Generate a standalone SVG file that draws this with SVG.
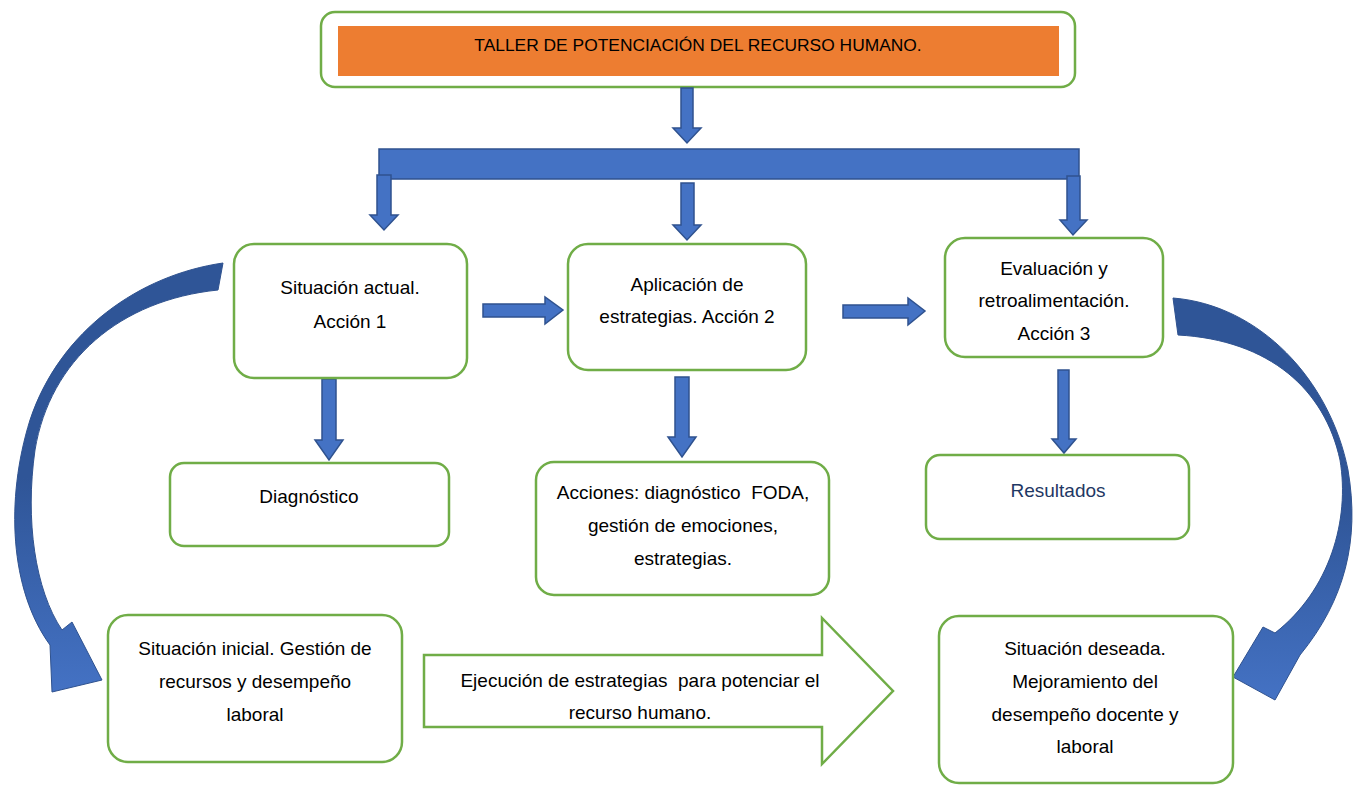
<svg xmlns="http://www.w3.org/2000/svg" width="1359" height="785" viewBox="0 0 1359 785">
<defs>
<style>
.box{fill:#fff;stroke:#70AD47;stroke-width:2.5}
.blk{fill:#4472C4;stroke:#2F528F;stroke-width:1.5}
.t{font-family:"Liberation Sans",Arial,sans-serif;font-size:19px;fill:#000;text-anchor:middle;white-space:pre}
</style>
<linearGradient id="gL" x1="0" y1="0" x2="0" y2="1">
<stop offset="0" stop-color="#2F5597"/><stop offset="0.5" stop-color="#2F5597"/><stop offset="1" stop-color="#4472C4"/>
</linearGradient>
</defs>
<rect width="1359" height="785" fill="#fff"/>

<g id="title">
<rect class="box" x="321" y="12" width="754" height="75" rx="14"/>
<rect x="338" y="26" width="721" height="50" fill="#ED7D31"/>
<text class="t" x="698" y="51" style="font-size:17.4px">TALLER DE POTENCIACIÓN DEL RECURSO HUMANO.</text>
</g>

<g id="connectors">
<polygon class="blk" points="681,88 693,88 693,128 701,128 687,143 673,128 681,128"/>
<rect class="blk" x="379" y="149" width="700" height="30"/>
<polygon class="blk" points="377,175 391,175 391,215 398,215 384,230 370,215 377,215"/>
<polygon class="blk" points="681,183 694,183 694,225 701,225 687,240 673,225 681,225"/>
<polygon class="blk" points="1067,176 1080,176 1080,220 1087,220 1073,235 1060,220 1067,220"/>
<polygon class="blk" points="483,304 545,304 545,297 563,310 545,324 545,317 483,317"/>
<polygon class="blk" points="843,305 908,305 908,298 925,311 908,325 908,318 843,318"/>
<polygon class="blk" points="322,379 336,379 336,440 343,440 329,460 315,440 322,440"/>
<polygon class="blk" points="675,377 689,377 689,437 696,437 682,457 668,437 675,437"/>
<polygon class="blk" points="1058,370 1069,370 1069,439 1076,439 1064,453 1052,439 1058,439"/>
<path fill="url(#gL)" stroke="#2F528F" stroke-width="1" d="M 223 263 C 140 275, 60 330, 30 420 C 5 500, 10 590, 50 645 L 52 692 L 102 680 L 72 622 L 62 630 C 35 590, 25 520, 35 450 C 50 360, 120 300, 218 290 Z"/>
<path fill="url(#gL)" stroke="#2F528F" stroke-width="1" d="M 1173 298 C 1260 305, 1330 380, 1348 470 C 1360 540, 1345 600, 1300 655 L 1275 700 L 1233 677 L 1263 627 L 1275 633 C 1330 590, 1350 520, 1340 460 C 1325 390, 1270 340, 1178 335 Z"/>
</g>

<g id="actual">
<rect class="box" x="234" y="244" width="233" height="134" rx="20"/>
<text class="t" x="350" y="294">Situación actual.</text>
<text class="t" x="350" y="328">Acción 1</text>
</g>
<g id="aplicacion">
<rect class="box" x="568" y="244" width="238" height="126" rx="20"/>
<text class="t" x="687" y="291">Aplicación de</text>
<text class="t" x="687" y="323">estrategias. Acción 2</text>
</g>
<g id="evaluacion">
<rect class="box" x="945" y="238" width="218" height="119" rx="20"/>
<text class="t" x="1054" y="275">Evaluación y</text>
<text class="t" x="1054" y="307">retroalimentación.</text>
<text class="t" x="1054" y="340">Acción 3</text>
</g>
<g id="diagnostico">
<rect class="box" x="170" y="463" width="279" height="83" rx="14"/>
<text class="t" x="309" y="503">Diagnóstico</text>
</g>
<g id="acciones">
<rect class="box" x="536" y="462" width="293" height="133" rx="18"/>
<text class="t" x="683" y="499">Acciones: diagnóstico  FODA,</text>
<text class="t" x="683" y="532">gestión de emociones,</text>
<text class="t" x="683" y="565">estrategias.</text>
</g>
<g id="resultados">
<rect class="box" x="926" y="455" width="263" height="84" rx="14"/>
<text class="t" x="1058" y="497" style="fill:#1F3864">Resultados</text>
</g>
<g id="inicial">
<rect class="box" x="108" y="615" width="294" height="147" rx="20"/>
<text class="t" x="255" y="655">Situación inicial. Gestión de</text>
<text class="t" x="255" y="688">recursos y desempeño</text>
<text class="t" x="255" y="721">laboral</text>
</g>
<g id="ejecucion">
<polygon class="box" points="424,655 822,655 822,618 893,691 822,764 822,727 424,727"/>
<text class="t" x="640" y="687">Ejecución de estrategias  para potenciar el</text>
<text class="t" x="640" y="719">recurso humano.</text>
</g>
<g id="deseada">
<rect class="box" x="939" y="616" width="294" height="167" rx="20"/>
<text class="t" x="1085" y="655">Situación deseada.</text>
<text class="t" x="1085" y="688">Mejoramiento del</text>
<text class="t" x="1085" y="721">desempeño docente y</text>
<text class="t" x="1085" y="753">laboral</text>
</g>
</svg>
